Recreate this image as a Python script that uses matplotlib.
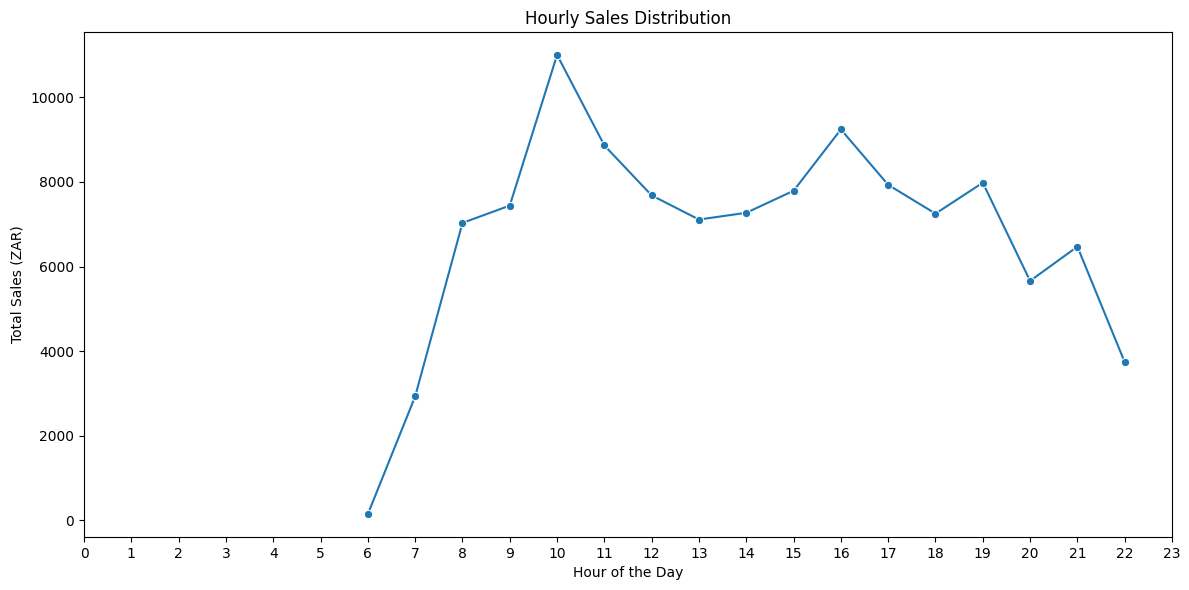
import numpy as np
import matplotlib
matplotlib.use("Agg")
import matplotlib.pyplot as plt
import seaborn as sns

hours = [6, 7, 8, 9, 10, 11, 12, 13, 14, 15, 16, 17, 18, 19, 20, 21, 22]
sales = [150, 2930, 7030, 7440, 11000, 8860, 7680, 7110, 7270, 7790, 9240, 7930, 7250, 7980, 5660, 6470, 3740]

fig, ax = plt.subplots(figsize=(11.89, 5.9), dpi=100)
sns.lineplot(x=hours, y=sales, marker='o', ax=ax)
ax.set_title("Hourly Sales Distribution")
ax.set_xlabel("Hour of the Day")
ax.set_ylabel("Total Sales (ZAR)")
ax.set_xticks(range(0, 24))
ax.set_xlim(0, 23)
fig.subplots_adjust(left=0.0707, right=0.9857, top=0.9458, bottom=0.0898)
plt.savefig("out.png", dpi=100)
